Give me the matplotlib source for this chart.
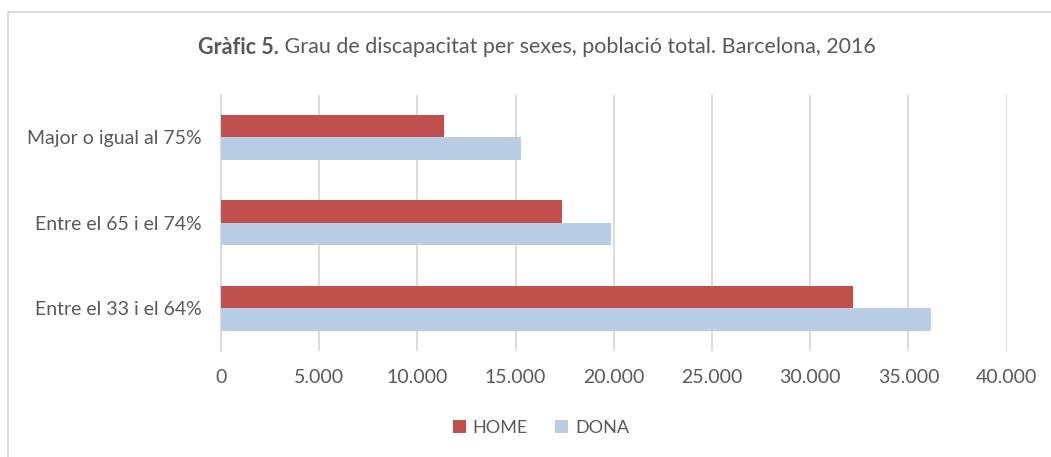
import numpy as np
import matplotlib.pyplot as plt
from matplotlib.patches import Rectangle
from matplotlib.ticker import FuncFormatter

categories = ["Entre el 33 i el 64%", "Entre el 65 i el 74%", "Major o igual al 75%"]
home = [32190, 17370, 11330]
dona = [36130, 19840, 15290]
ticks = np.arange(0, 40001, 5000)

plt.rcParams['font.family'] = ['Lato', 'DejaVu Sans']
txt = '#595959'

fig = plt.figure(figsize=(10.51, 4.57), dpi=100)
ax = fig.add_axes([221 / 1051, (457 - 350.75) / 457, 785.7 / 1051, 256 / 457])

y = np.arange(len(categories))
h = 0.263
ax.barh(y + h / 2, home, height=h, color='#C0504D', label='HOME', zorder=3)
ax.barh(y - h / 2, dona, height=h, color='#B9CDE5', label='DONA', zorder=3)

ax.set_xlim(0, 40000)
ax.set_ylim(-0.5, 2.5)
ax.set_xticks(ticks)
ax.xaxis.set_major_formatter(FuncFormatter(lambda v, p: f"{int(v):,}".replace(",", ".")))
ax.set_yticks(y)
ax.set_yticklabels(categories)
ax.tick_params(axis='both', length=0, colors=txt, labelsize=14)
ax.tick_params(axis='x', pad=13)
ax.tick_params(axis='y', pad=14)
ax.grid(axis='x', color='#D9D9D9', linewidth=1.3, zorder=0)
for s in ['top', 'right', 'bottom']:
    ax.spines[s].set_visible(False)
ax.spines['left'].set_color('#D9D9D9')
ax.spines['left'].set_linewidth(1.3)

# title: bold prefix + regular text, centred as one line
ty = 1 - 47 / 457
bold = fig.text(0, ty, "Gràfic 5.", ha='left', va='center', fontsize=15.5, fontweight='bold', color=txt)
rest = fig.text(0, ty, " Grau de discapacitat per sexes, població total. Barcelona, 2016",
                ha='left', va='center', fontsize=15.5, color=txt)
r = fig.canvas.get_renderer()
wb = bold.get_window_extent(r).width / 1051
wr = rest.get_window_extent(r).width / 1051
x0 = 537 / 1051 - (wb + wr) / 2
bold.set_x(x0)
rest.set_x(x0 + wb)

leg = fig.legend(loc='center', bbox_to_anchor=(541 / 1051, 1 - 428 / 457), ncol=2, frameon=False,
                 fontsize=13, handlelength=0.7, handleheight=0.7, handletextpad=0.4,
                 columnspacing=1.5)
for t in leg.get_texts():
    t.set_color(txt)

fig.patches.append(Rectangle((8 / 1051, -0.1), 1.2, 1 - 12 / 457 + 0.1, transform=fig.transFigure,
                             fill=False, edgecolor='#D9D9D9', linewidth=1.3))

fig.savefig("out.png", dpi=100)
